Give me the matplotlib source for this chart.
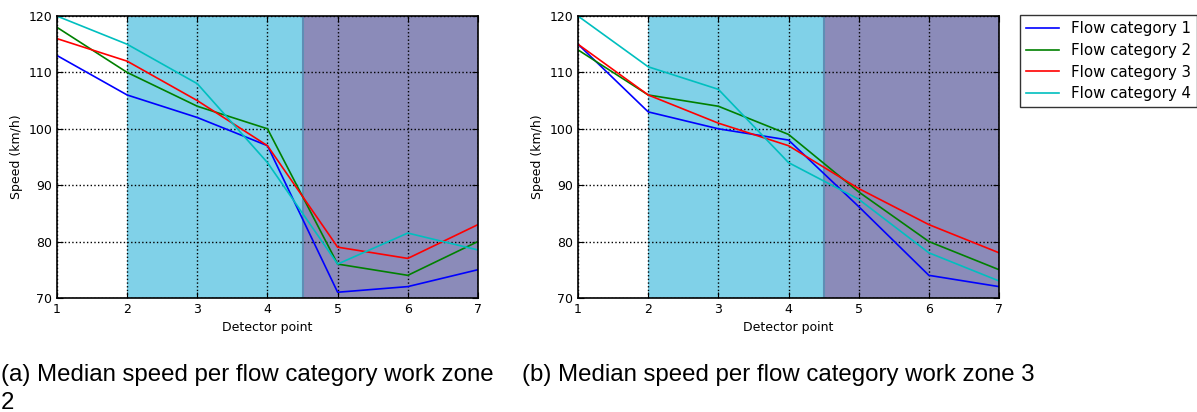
import matplotlib
matplotlib.use("Agg")
import matplotlib.pyplot as plt

points = [1, 2, 3, 4, 5, 6, 7]
labels = ["Flow category 1", "Flow category 2", "Flow category 3", "Flow category 4"]
colors = ["b", "g", "r", "c"]

# work zone 2
zone2_cat1 = [113, 106, 102, 97, 71, 72, 75]
zone2_cat2 = [118, 110, 104, 100, 76, 74, 80]
zone2_cat3 = [116, 112, 105, 97, 79, 77, 83]
zone2_cat4 = [120, 115, 108, 94, 76, 81.5, 78.5]

# work zone 3
zone3_cat1 = [115, 103, 100, 98, 86.2, 74, 72]
zone3_cat2 = [114, 106, 104, 99, 88.8, 80, 75]
zone3_cat3 = [115, 106, 101, 97, 89.4, 83, 78]
zone3_cat4 = [120, 111, 107, 94, 87.5, 78, 73]

captions = ["(a) Median speed per flow category work zone\n2",
            "(b) Median speed per flow category work zone 3"]

plt.rcParams['font.family'] = ['DejaVu Sans']
plt.rcParams['font.size'] = 9

fig = plt.figure(figsize=(11.97, 4.12), dpi=100)
ax1 = fig.add_axes([0.0476, 0.277, 0.3517, 0.684])
ax2 = fig.add_axes([0.4829, 0.277, 0.3517, 0.684])


def draw_zone(ax, series):
    ax.axvspan(2, 4.5, facecolor="#80d1e8", edgecolor="none", zorder=0)
    ax.axvspan(4.5, 7, facecolor="#8b8bb9", edgecolor="none", zorder=0)
    ax.axvline(4.5, color="#5d8fb5", lw=1.5, zorder=0.5)
    for vals, c, lab in zip(series, colors, labels):
        ax.plot(points, vals, color=c, lw=1.2, label=lab, zorder=3)
    ax.set_xlim(1, 7)
    ax.set_ylim(70, 120)
    ax.set_xticks(points)
    ax.set_yticks([70, 80, 90, 100, 110, 120])
    ax.grid(True, color="black", linestyle=":", lw=1, zorder=1)
    ax.set_axisbelow(False)
    ax.tick_params(direction="in", length=4, top=True, right=True, labelsize=9)
    ax.set_xlabel("Detector point", fontsize=9)
    ax.set_ylabel("Speed (km/h)", fontsize=9)
    for s in ax.spines.values():
        s.set_linewidth(1.2)
        s.set_zorder(4)


draw_zone(ax1, [zone2_cat1, zone2_cat2, zone2_cat3, zone2_cat4])
draw_zone(ax2, [zone3_cat1, zone3_cat2, zone3_cat3, zone3_cat4])

leg = ax2.legend(loc="upper left", bbox_to_anchor=(1.05, 1.003), borderaxespad=0,
                 fontsize=10.8, fancybox=False, handlelength=2.2, labelspacing=0.45)
leg.get_frame().set_edgecolor("black")
leg.get_frame().set_linewidth(1.0)

first, second = captions[0].split("\n")
fig.text(0.001, 1 - 381 / 412, first, family="Liberation Sans",
         fontsize=17.3, va="baseline", ha="left")
fig.text(0.001, 1 - 409 / 412, second, family="Liberation Sans",
         fontsize=17.3, va="baseline", ha="left")
fig.text(522 / 1197, 1 - 381 / 412, captions[1], family="Liberation Sans",
         fontsize=17.3, va="baseline", ha="left")

fig.savefig("out.png", dpi=100)
